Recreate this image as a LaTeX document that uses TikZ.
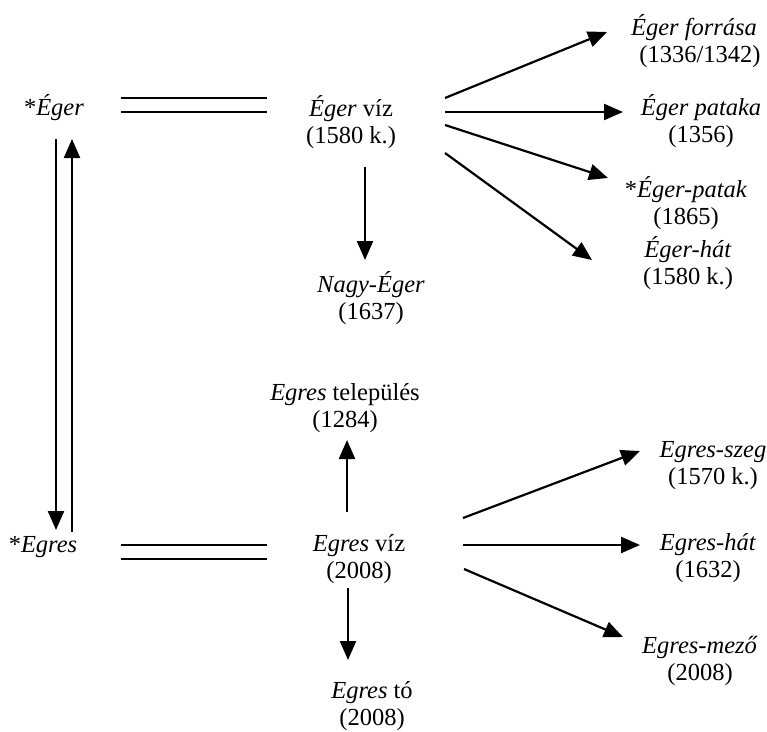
\documentclass[tikz,border=0pt]{standalone}
\usepackage{fontspec}
\setmainfont{Liberation Serif}
\usetikzlibrary{arrows.meta}
\begin{document}
\begin{tikzpicture}[x=1pt,y=-1pt,
  lbl/.style={inner sep=0pt,anchor=base,font=\fontsize{24.5}{27.5}\selectfont},
  arr/.style={line width=2.2pt,-{Triangle[length=19pt,width=16pt]}},
  dbl/.style={line width=1.8pt}]
\useasboundingbox (0,0) rectangle (767,731);
\newcommand{\lines}[2]{\begin{tabular}[t]{@{}c@{}}#1\\#2\end{tabular}}
% nodes
\node[lbl] (E0) at (54,115) {*\textit{Éger}};
\node[lbl] (G0) at (43,552) {*\textit{Egres}};
\node[lbl] (Ev) at (351,116) {\lines{\textit{Éger} víz}{(1580 k.)}};
\node[lbl] (NE) at (371,292) {\lines{\textit{Nagy-Éger}}{(1637)}};
\node[lbl] (EF) at (694,35) {\lines{\textit{Éger forrása}}{\hspace{12pt}(1336/1342)}};
\node[lbl] (EP) at (701,115) {\lines{\textit{Éger pataka}}{(1356)}};
\node[lbl] (EPk) at (686,197) {\lines{*\textit{Éger-patak}}{(1865)}};
\node[lbl] (EH) at (688,257) {\lines{\textit{Éger-hát}}{(1580 k.)}};
\node[lbl] (Gt) at (345,400) {\lines{\textit{Egres} település}{(1284)}};
\node[lbl] (Gv) at (359,551) {\lines{\textit{Egres} víz}{(2008)}};
\node[lbl] (Gto) at (372,698) {\lines{\textit{Egres} tó}{(2008)}};
\node[lbl] (GS) at (713,457) {\lines{\textit{Egres-szeg}}{(1570 k.)}};
\node[lbl] (GH) at (708,550) {\lines{\textit{Egres-hát}}{(1632)}};
\node[lbl] (GM) at (700,653) {\lines{\textit{Egres-mező}}{(2008)}};
% connector end points
\coordinate (E0a) at (121,98);  \coordinate (Eva) at (267,98);
\coordinate (E0b) at (121,112); \coordinate (Evb) at (267,112);
\coordinate (G0a) at (121,545); \coordinate (Gva) at (267,545);
\coordinate (G0b) at (121,559); \coordinate (Gvb) at (267,559);
\coordinate (E0d) at (56,139);  \coordinate (G0d) at (56,530);
\coordinate (G0u) at (72,532);  \coordinate (E0u) at (72,139);
\coordinate (Ev1) at (445,98);  \coordinate (EF1) at (607,32);
\coordinate (Ev2) at (445,112); \coordinate (EP1) at (623,112);
\coordinate (Ev3) at (445,125); \coordinate (EPk1) at (608,178);
\coordinate (Ev4) at (445,153); \coordinate (EH1) at (592,260);
\coordinate (Ev5) at (365,167); \coordinate (NE1) at (365,260);
\coordinate (Gv1) at (463,518); \coordinate (GS1) at (640,451);
\coordinate (Gv2) at (463,545); \coordinate (GH1) at (640,545);
\coordinate (Gv3) at (464,569); \coordinate (GM1) at (623,637);
\coordinate (Gv4) at (347,512); \coordinate (Gt1) at (347,440);
\coordinate (Gv5) at (348,588); \coordinate (Gto1) at (348,660);
% connectors
\draw[dbl] (E0a) -- (Eva);
\draw[dbl] (E0b) -- (Evb);
\draw[dbl] (G0a) -- (Gva);
\draw[dbl] (G0b) -- (Gvb);
\draw[arr] (E0d) -- (G0d);
\draw[arr] (G0u) -- (E0u);
\draw[arr] (Ev1) -- (EF1);
\draw[arr] (Ev2) -- (EP1);
\draw[arr] (Ev3) -- (EPk1);
\draw[arr] (Ev4) -- (EH1);
\draw[arr] (Ev5) -- (NE1);
\draw[arr] (Gv1) -- (GS1);
\draw[arr] (Gv2) -- (GH1);
\draw[arr] (Gv3) -- (GM1);
\draw[arr] (Gv4) -- (Gt1);
\draw[arr] (Gv5) -- (Gto1);
\end{tikzpicture}
\end{document}
